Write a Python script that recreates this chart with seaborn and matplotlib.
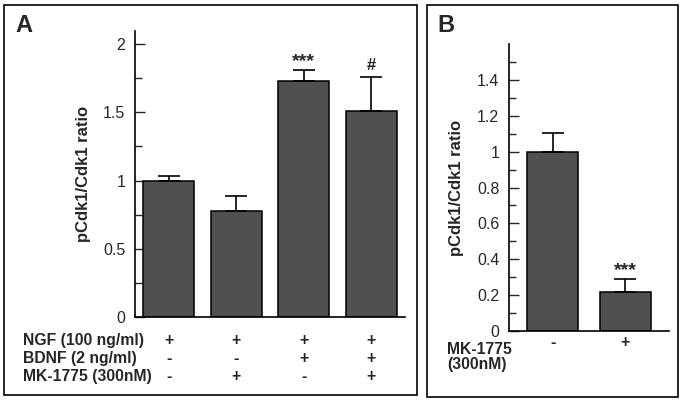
import matplotlib
matplotlib.use("Agg")
import matplotlib.pyplot as plt
import matplotlib.patches as patches
import matplotlib.transforms as mtransforms
from matplotlib.ticker import FixedLocator
import numpy as np
import pandas as pd
import seaborn as sns

# Panel A data
a_groups = ["g1", "g2", "g3", "g4"]
a_values = [1.00, 0.78, 1.73, 1.51]
a_err = [0.03, 0.11, 0.08, 0.25]
a_marks = ["", "", "***", "#"]
a_rows = ["NGF (100 ng/ml)", "BDNF (2 ng/ml)", "MK-1775 (300nM)"]
a_signs = [["+", "+", "+", "+"],
           ["-", "-", "+", "+"],
           ["-", "+", "-", "+"]]

# Panel B data
b_groups = ["ctl", "mk"]
b_values = [1.00, 0.215]
b_err = [0.105, 0.075]
b_marks = ["", "***"]
b_row = "MK-1775\n(300nM)"
b_signs = ["-", "+"]

sns.set_style("white")
plt.rcParams['font.family'] = ['Liberation Sans', 'DejaVu Sans']

bar_color = "#505050"

fig = plt.figure(figsize=(6.83, 4.0), dpi=100)

# panel frames
fig.add_artist(patches.Rectangle((4/683, 1-395/400), 413/683, 390/400,
                                 transform=fig.transFigure, fill=False,
                                 edgecolor="black", linewidth=1.2))
fig.add_artist(patches.Rectangle((427/683, 1-397/400), 251/683, 392/400,
                                 transform=fig.transFigure, fill=False,
                                 edgecolor="black", linewidth=1.2))

axA = fig.add_axes([135/683, 1-317/400, 270/683, 286.5/400])
axB = fig.add_axes([509/683, 1-331/400, 160/683, 287/400])


def g_fmt(v, pos=None):
    return "%g" % v


def draw_panel(ax, groups, values, err, marks, width, xlim, ylim, majors, minors):
    df = pd.DataFrame({"group": groups, "value": values})
    sns.barplot(data=df, x="group", y="value", order=groups, color=bar_color,
                saturation=1, width=width, edgecolor="black", linewidth=1.1,
                errorbar=None, ax=ax)
    x = np.arange(len(groups))
    ax.errorbar(x, values, yerr=[np.zeros(len(err)), err], fmt="none",
                ecolor="black", elinewidth=1.2, capsize=8, capthick=1.2,
                zorder=1)
    for xi, v, e, m in zip(x, values, err, marks):
        if m:
            fs = 14 if m.startswith("*") else 12
            off = ylim[1] * (0.0 if m.startswith("*") else 0.012)
            ax.text(xi, v + e + off, m, ha="center", va="bottom",
                    fontsize=fs, fontweight="bold")
    ax.set_xlim(*xlim)
    ax.set_ylim(*ylim)
    ax.yaxis.set_major_locator(FixedLocator(majors))
    ax.yaxis.set_minor_locator(FixedLocator(minors))
    ax.yaxis.set_major_formatter(plt.FuncFormatter(g_fmt))
    ax.tick_params(axis="y", which="major", direction="in", length=7, width=1,
                   pad=7, labelsize=11.5, left=True)
    ax.tick_params(axis="y", which="minor", direction="in", length=5, width=1,
                   left=True)
    ax.tick_params(axis="x", length=0, labelbottom=False)
    ax.set_xlabel("")
    ax.set_ylabel("pCdk1/Cdk1 ratio", fontsize=12, fontweight="bold", labelpad=9)
    for s in ["top", "right"]:
        ax.spines[s].set_visible(False)
    for s in ["left", "bottom"]:
        ax.spines[s].set_linewidth(1.2)
        ax.spines[s].set_color("black")


draw_panel(axA, a_groups, a_values, a_err, a_marks, 0.755, (-0.5, 3.5), (0, 2.1),
           [0, 0.5, 1, 1.5, 2], [0.25, 0.75, 1.25, 1.75])
draw_panel(axB, b_groups, b_values, b_err, b_marks, 0.70, (-0.6, 1.6), (0, 1.6),
           [0, 0.2, 0.4, 0.6, 0.8, 1.0, 1.2, 1.4],
           [0.1, 0.3, 0.5, 0.7, 0.9, 1.1, 1.3, 1.5])

# treatment table under panel A
transA = mtransforms.blended_transform_factory(axA.transData, fig.transFigure)
row_y = [1-341/400, 1-358/400, 1-376/400]
for label, signs, yy in zip(a_rows, a_signs, row_y):
    fig.text(23/683, yy, label, ha="left", va="center", fontsize=11.3,
             fontweight="bold")
    for xi, s in enumerate(signs):
        axA.text(xi, yy, s, transform=transA, ha="center", va="center",
                 fontsize=11.5, fontweight="bold", clip_on=False)

transB = mtransforms.blended_transform_factory(axB.transData, fig.transFigure)
fig.text(447/683, 1-357/400, b_row, ha="left", va="center", fontsize=11.3,
         fontweight="bold", linespacing=1.05)
for xi, s in enumerate(b_signs):
    axB.text(xi, 1-343/400, s, transform=transB, ha="center", va="center",
             fontsize=11.5, fontweight="bold", clip_on=False)

# panel letters
fig.text(15/683, 1-26/400, "A", ha="left", va="center", fontsize=17,
         fontweight="bold")
fig.text(437/683, 1-26/400, "B", ha="left", va="center", fontsize=17,
         fontweight="bold")

fig.savefig("out.png", dpi=100)
